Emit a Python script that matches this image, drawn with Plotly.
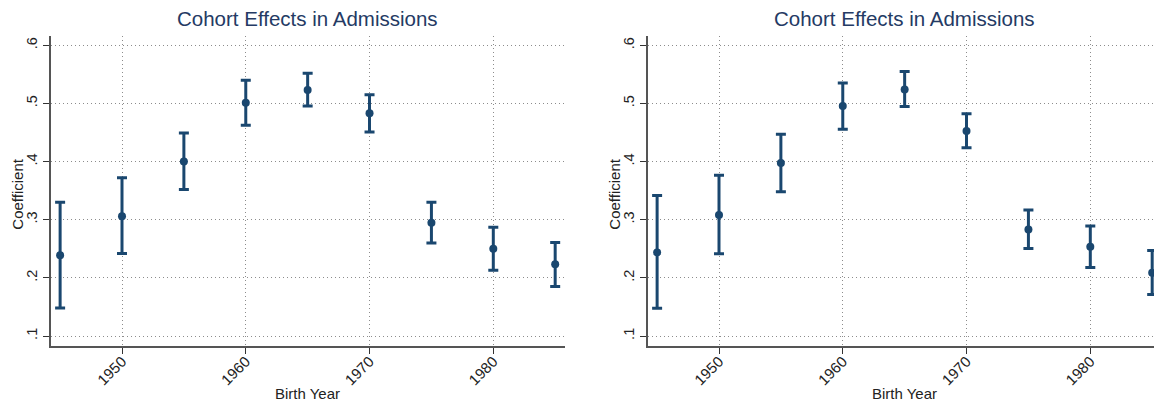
import plotly.graph_objects as go

W, H = 1154, 404

years = [1945, 1950, 1955, 1960, 1965, 1970, 1975, 1980, 1985]

coef_left = [0.239, 0.306, 0.400, 0.501, 0.523, 0.483, 0.295, 0.250, 0.2235]
hi_left = [0.330, 0.372, 0.449, 0.540, 0.552, 0.515, 0.330, 0.287, 0.261]
lo_left = [0.148, 0.242, 0.352, 0.4625, 0.4955, 0.451, 0.260, 0.213, 0.185]

coef_right = [0.2438, 0.308, 0.3977, 0.4955, 0.524, 0.4528, 0.2833, 0.2533, 0.2086]
hi_right = [0.3415, 0.3767, 0.4472, 0.535, 0.555, 0.4824, 0.3166, 0.2891, 0.2470]
lo_right = [0.1478, 0.2416, 0.3483, 0.4557, 0.4949, 0.4239, 0.2504, 0.2178, 0.1713]

x_ticks = [1950, 1960, 1970, 1980]
y_ticks = [0.1, 0.2, 0.3, 0.4, 0.5, 0.6]
y_tick_labels = [".1", ".2", ".3", ".4", ".5", ".6"]

title_text = "Cohort Effects in Admissions"
x_title = "Birth Year"
y_title = "Coefficient"

NAVY = "#1a476f"
TITLE_C = "#243a64"
FONT = "Liberation Sans, Arial, Helvetica, sans-serif"

# pixel geometry
L1, R1 = 50.7, 564.7
L2, R2 = 647.7, 1161.7
TOP, BOT = 36.0, 346.0
pxyr = (493.3 - 122.0) / 30.0
x0 = 1950 - (122.0 - L1) / pxyr
x1 = 1980 + (R1 - 493.3) / pxyr
x1_right = x0 + (W - L2) / pxyr

fig = go.Figure()


def add_panel(coef, hi, lo, xa, ya):
    fig.add_trace(go.Scatter(
        x=years, y=coef, mode="markers",
        marker=dict(color=NAVY, size=8, symbol="circle"),
        error_y=dict(type="data", symmetric=False,
                     array=[h - c for h, c in zip(hi, coef)],
                     arrayminus=[c - l for c, l in zip(coef, lo)],
                     color=NAVY, thickness=3, width=5),
        xaxis=xa, yaxis=ya, showlegend=False, cliponaxis=True,
    ))


add_panel(coef_left, hi_left, lo_left, "x", "y")
add_panel(coef_right, hi_right, lo_right, "x2", "y2")

ydom = [1 - BOT / H, 1 - TOP / H]
yr = [0.1 - (BOT - 336.0) / 581.4, 0.6 + (45.3 - TOP) / 581.4]

GRID = dict(showgrid=True, gridcolor="#8c8c8c", gridwidth=1, griddash="1px,3px")

common_x = dict(
    tickmode="array", tickvals=x_ticks, tickangle=-45,
    ticks="outside", ticklen=6, tickwidth=1.2, tickcolor="#333",
    showline=True, linecolor="#555", linewidth=1.6, ticklabelstandoff=-7,
    zeroline=False, tickfont=dict(family=FONT, size=15, color="#222"),
    **GRID,
)
common_y = dict(
    tickmode="array", tickvals=y_ticks, ticktext=y_tick_labels, tickangle=-90,
    ticks="outside", ticklen=6, tickwidth=1.2, tickcolor="#333",
    showline=True, linecolor="#555", linewidth=1.6,
    zeroline=False, tickfont=dict(family=FONT, size=14.5, color="#222"),
    range=yr, domain=ydom,
    **GRID,
)

fig.update_layout(
    width=W, height=H,
    margin=dict(l=0, r=0, t=0, b=0),
    paper_bgcolor="white", plot_bgcolor="white",
    font=dict(family=FONT),
    xaxis=dict(common_x, domain=[L1 / W, R1 / W], range=[x0, x1], anchor="y"),
    yaxis=dict(common_y, anchor="x"),
    xaxis2=dict(common_x, domain=[L2 / W, 1.0], range=[x0, x1_right], anchor="y2"),
    yaxis2=dict(common_y, anchor="x2"),
)

for (lpx, rpx, ypx_ax) in [(L1, R1, L1 - 34), (L2, R2, L2 - 34)]:
    cx = (lpx + rpx) / 2
    fig.add_annotation(text=title_text, x=cx / W, y=1 - 18 / H, xref="paper", yref="paper",
                       showarrow=False, xanchor="center", yanchor="middle",
                       font=dict(family=FONT, size=20.5, color=TITLE_C))
    fig.add_annotation(text=x_title, x=cx / W, y=1 - 393 / H, xref="paper", yref="paper",
                       showarrow=False, xanchor="center", yanchor="middle",
                       font=dict(family=FONT, size=15, color="#222"))
    fig.add_annotation(text=y_title, x=ypx_ax / W, y=1 - 194 / H, xref="paper", yref="paper",
                       showarrow=False, xanchor="center", yanchor="middle", textangle=-90,
                       font=dict(family=FONT, size=15, color="#222"))

fig.write_html("out.html")
